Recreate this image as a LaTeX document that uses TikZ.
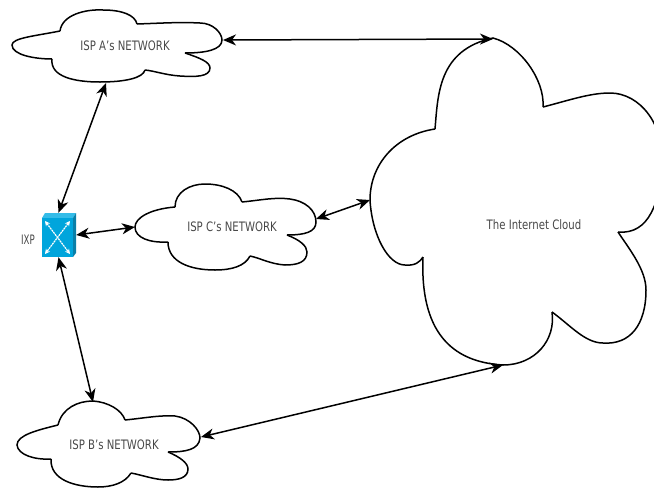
\documentclass[tikz,border=0pt]{standalone}
\usepackage{fontspec}
\setmainfont{DejaVu Sans}
\usetikzlibrary{arrows.meta}
\definecolor{ixpblue}{HTML}{00A5DC}
\definecolor{ixpside}{HTML}{0A7FA8}
\definecolor{ixptop}{HTML}{35BCE8}
\definecolor{labelgrey}{HTML}{484848}
\tikzset{
  cloudline/.style={draw=black,line width=1.5pt,line join=miter},
  cloudtext/.style={text=labelgrey,font=\fontsize{13}{15}\selectfont,inner sep=0pt,xscale=0.78},
  link/.style={draw=black,line width=1.5pt,{Stealth[length=13pt,width=11pt,inset=4pt]}-{Stealth[length=13pt,width=11pt,inset=4pt]}},
  ixpbox/.style={draw=none,minimum width=35pt,minimum height=44pt,inner sep=0pt},
  ixpcross/.style={white,line width=1.2pt,dash pattern=on 2pt off 0.7pt,{Stealth[length=5pt,width=5pt]}-{Stealth[length=5pt,width=5pt]}},
}
\begin{document}
\begin{tikzpicture}[x=1pt,y=-1pt]
\useasboundingbox (0,0) rectangle (654,488);
% cloud A
\draw[cloudline] (60,31) .. controls (35,36) and (12,38) .. (12,45) .. controls (12,55) and (35,59) .. (52,59);
\draw[cloudline] (60,31) .. controls (62,15) and (85,9) .. (103,10) .. controls (122,10) and (135,15) .. (137,24);
\draw[cloudline] (137,24) .. controls (165,23) and (180,22) .. (200,23) .. controls (213,23) and (222,33) .. (222,40) .. controls (222,50) and (205,53) .. (185,53);
\draw[cloudline] (185,53) .. controls (200,58) and (210,62) .. (210,68) .. controls (210,77) and (195,77) .. (180,76) .. controls (165,75) and (155,71) .. (145,70);
\draw[cloudline] (145,70) .. controls (143,78) and (125,82) .. (100,82) .. controls (75,82) and (50,77) .. (52,59);
% cloud C
\draw[cloudline] (175,207) .. controls (150,209) and (135,218) .. (135,227) .. controls (135,238) and (150,243) .. (168,242);
\draw[cloudline] (175,207) .. controls (175,192) and (190,184) .. (205,184) .. controls (222,184) and (238,190) .. (242,202);
\draw[cloudline] (242,202) .. controls (262,200) and (275,197) .. (290,199) .. controls (305,201) and (316,210) .. (316,222) .. controls (316,232) and (305,235) .. (287,235);
\draw[cloudline] (287,235) .. controls (300,240) and (307,246) .. (307,252) .. controls (307,262) and (298,265) .. (285,265) .. controls (270,264) and (260,258) .. (250,256);
\draw[cloudline] (250,256) .. controls (245,266) and (232,270) .. (215,270) .. controls (190,270) and (168,262) .. (168,242);
% cloud B
\draw[cloudline] (58,425) .. controls (38,430) and (17,435) .. (17,445) .. controls (18,455) and (35,460) .. (51,459);
\draw[cloudline] (58,425) .. controls (62,408) and (78,401) .. (93,401) .. controls (108,402) and (122,410) .. (125,420);
\draw[cloudline] (125,420) .. controls (145,418) and (160,415) .. (175,416) .. controls (190,418) and (200,430) .. (200,438) .. controls (199,450) and (185,452) .. (168,452);
\draw[cloudline] (168,452) .. controls (180,457) and (188,463) .. (188,469) .. controls (188,478) and (178,480) .. (168,480) .. controls (155,480) and (142,475) .. (131,473);
\draw[cloudline] (131,473) .. controls (125,483) and (112,487) .. (98,487) .. controls (75,487) and (50,480) .. (51,459);
% internet cloud
\draw[cloudline] (435,129) .. controls (395,135) and (370,165) .. (370,200) .. controls (372,235) and (388,265) .. (405,265) .. controls (415,266) and (420,262) .. (423,257);
\draw[cloudline] (435,129) .. controls (438,95) and (438,50) .. (493,38) .. controls (520,45) and (545,80) .. (543,107);
\draw[cloudline] (543,107) .. controls (570,100) and (590,93) .. (610,93) .. controls (640,93) and (665,125) .. (662,165) .. controls (660,200) and (650,235) .. (618,232);
\draw[cloudline] (618,232) .. controls (630,250) and (646,270) .. (646,290) .. controls (646,325) and (630,345) .. (603,343) .. controls (585,343) and (570,325) .. (552,312);
\draw[cloudline] (552,312) .. controls (556,340) and (535,365) .. (503,365) .. controls (450,362) and (420,330) .. (423,257);
% labels
\node[cloudtext] (ta) at (125,46) {ISP A's NETWORK};
\node[cloudtext] (tc) at (232,227) {ISP C's NETWORK};
\node[cloudtext] (tb) at (114,445) {ISP B's NETWORK};
\node[cloudtext] (ti) at (534,225) {The Internet Cloud};
\node[cloudtext,xscale=0.85] (tx) at (28,240) {IXP};
% switch
\node[ixpbox] (ixp) at (58.5,235) {};
\fill[ixptop] (42,218) -- (45,213) -- (76,213) -- (73,218) -- cycle;
\fill[ixpside] (73,218) -- (76,213) -- (76,253) -- (73,257) -- cycle;
\fill[ixpblue] (42,218) rectangle (73,257);
\draw[ixpcross] (45,221) -- (70,254);
\draw[ixpcross] (70,221) -- (45,254);
% anchors on clouds
\coordinate (as) at (106,83);
\coordinate (ae) at (223,40);
\coordinate (cw) at (135,227);
\coordinate (ce) at (316,219);
\coordinate (bn) at (93,402);
\coordinate (be) at (201,437);
\coordinate (in) at (493,39);
\coordinate (iw) at (370,200);
\coordinate (is) at (503,365);
% connectors
\draw[link] (as) -- (ixp.north);
\draw[link] (ae) -- (in);
\draw[link] (ixp.east) -- (cw);
\draw[link] (ce) -- (iw);
\draw[link] (ixp.south) -- (bn);
\draw[link] (be) -- (is);
\end{tikzpicture}
\end{document}
